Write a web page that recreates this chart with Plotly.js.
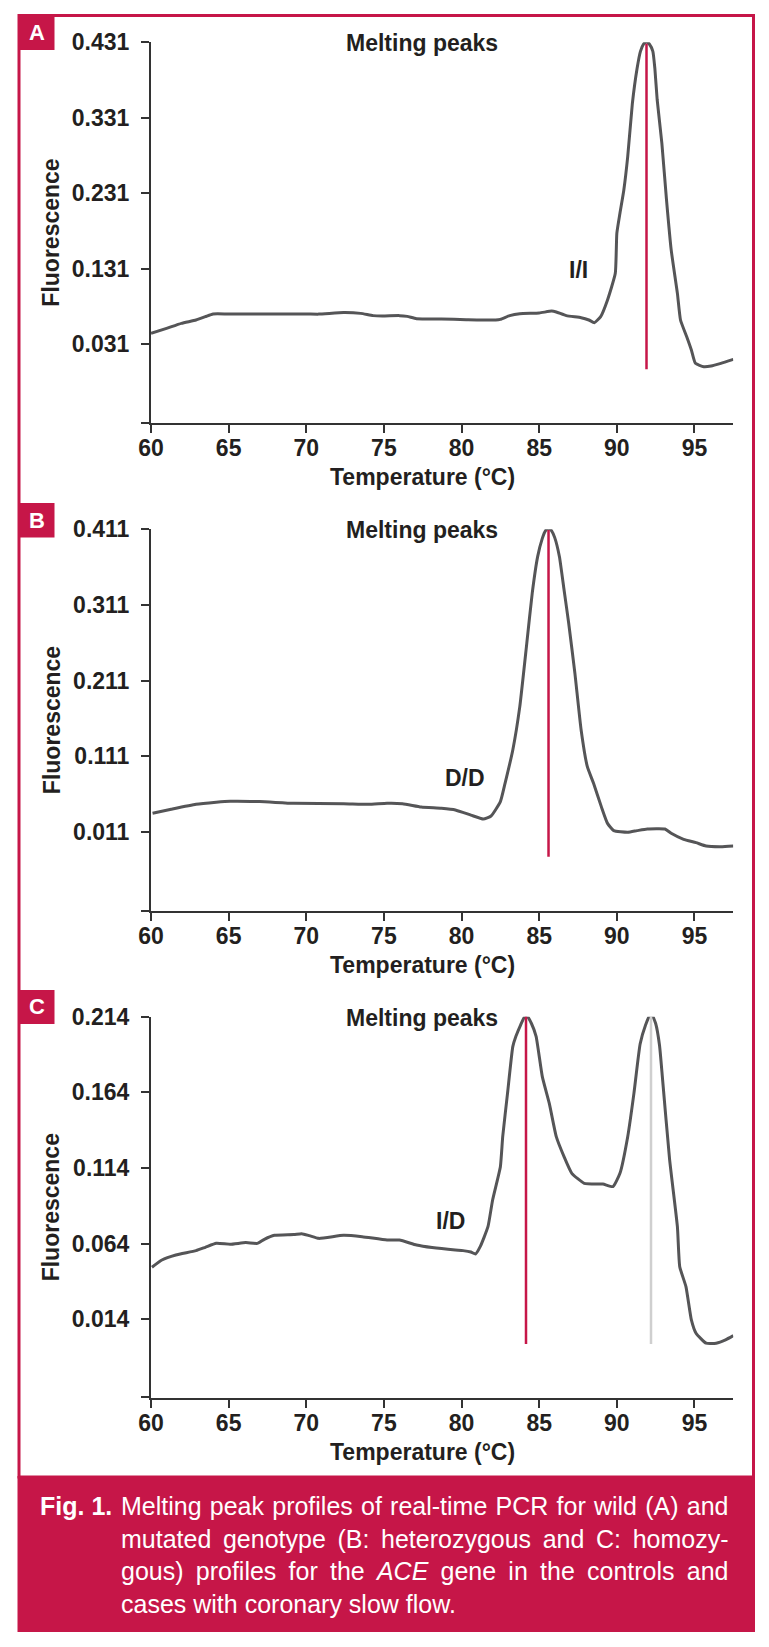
<!DOCTYPE html>
<html>
<head>
<meta charset="utf-8">
<script src="https://cdn.plot.ly/plotly-3.0.1.min.js"></script>
<style>
  html, body { margin: 0; padding: 0; background: #ffffff; }
  #chart { width: 769px; height: 1647px; }
</style>
</head>
<body>
<div id="chart"></div>
<script>
// ---------------- DATA ----------------
const xTickVals = [60, 65, 70, 75, 80, 85, 90, 95];

// Panel A (I/I)
const tempA = [60, 61.0, 61.96, 62.9, 63.5, 64.0, 65, 70, 70.8, 72.4, 73.5, 74.3, 74.9, 76.0, 76.5, 77.1, 78.7, 80.3, 82.2, 82.5, 83.1, 83.75, 85.0, 85.8, 86.1, 86.75, 87.7, 88.2, 88.55, 88.96, 89.4, 89.9, 90.0, 90.2, 90.45, 90.7, 91.0, 91.3, 91.52, 91.72, 91.91, 92.1, 92.32, 92.45, 92.6, 92.9, 93.2, 93.5, 93.9, 94.1, 94.5, 94.8, 95.06, 95.6, 96.07, 96.7, 97.5];
const fluorA = [0.0456, 0.0522, 0.0588, 0.0632, 0.0676, 0.0712, 0.0712, 0.0712, 0.0710, 0.0730, 0.0720, 0.0690, 0.0685, 0.0690, 0.0680, 0.0650, 0.0645, 0.0637, 0.0632, 0.0641, 0.0690, 0.0716, 0.0725, 0.0750, 0.0738, 0.0690, 0.0663, 0.0632, 0.0597, 0.0677, 0.0897, 0.1250, 0.1780, 0.2045, 0.2354, 0.2796, 0.3500, 0.3960, 0.4190, 0.4285, 0.4315, 0.4285, 0.4190, 0.3960, 0.3546, 0.2972, 0.2220, 0.1560, 0.0985, 0.0632, 0.0410, 0.0235, 0.0058, 0.0014, 0.0023, 0.0058, 0.0110];
const yTickValsA = [0.031, 0.131, 0.231, 0.331, 0.431];
const yRangeA = [-0.0728, 0.431];
const peakLineA = { temp: [91.91, 91.91], fluor: [-0.002, 0.429] };

// Panel B (D/D)
const tempB = [60.1, 61.3, 62.9, 64.2, 65.1, 67.0, 69.2, 72.4, 74.0, 75.2, 76.2, 77.4, 78.7, 79.6, 80.6, 81.4, 81.9, 82.5, 82.8, 83.3, 83.75, 84.2, 84.55, 84.9, 85.2, 85.4, 85.6, 85.8, 86.0, 86.3, 86.6, 86.9, 87.3, 87.7, 88.1, 88.5, 89.0, 89.4, 89.8, 90.7, 91.3, 91.96, 93.1, 93.5, 94.3, 95.1, 95.75, 96.7, 97.5];
const fluorB = [0.0353, 0.0406, 0.0472, 0.0499, 0.0512, 0.0508, 0.0486, 0.0481, 0.0472, 0.0486, 0.0481, 0.0437, 0.0419, 0.0397, 0.0330, 0.0278, 0.0318, 0.0508, 0.0750, 0.1191, 0.1764, 0.2602, 0.3263, 0.3748, 0.3990, 0.4090, 0.4125, 0.4090, 0.4000, 0.3750, 0.3310, 0.2867, 0.2205, 0.1456, 0.0970, 0.0750, 0.0442, 0.0220, 0.0124, 0.0102, 0.0124, 0.0146, 0.0146, 0.0089, 0.0009, -0.0035, -0.0079, -0.0088, -0.0079];
const yTickValsB = [0.011, 0.111, 0.211, 0.311, 0.411];
const yRangeB = [-0.0935, 0.411];
const peakLineB = { temp: [85.6, 85.6], fluor: [-0.022, 0.410] };

// Panel C (I/D)
const tempC = [60.06, 60.7, 61.6, 62.9, 63.5, 64.2, 65.1, 66.1, 66.85, 67.3, 67.95, 69.2, 69.7, 70.2, 70.8, 72.4, 73.6, 75.2, 76.0, 77.1, 78.1, 79.6, 80.1, 80.6, 80.9, 81.2, 81.7, 82.0, 82.5, 82.65, 82.96, 83.3, 83.5, 83.8, 84.15, 84.5, 84.8, 85.2, 85.65, 86.1, 86.6, 87.1, 87.9, 89.1, 89.75, 90.2, 90.7, 91.1, 91.5, 91.85, 92.2, 92.5, 92.75, 92.95, 93.4, 93.9, 94.05, 94.45, 94.8, 95.1, 95.75, 96.4, 97.0, 97.5];
const fluorC = [0.0484, 0.0532, 0.0565, 0.0594, 0.0616, 0.0642, 0.0636, 0.0647, 0.0642, 0.0669, 0.0695, 0.0700, 0.0706, 0.0693, 0.0675, 0.0695, 0.0686, 0.0664, 0.0664, 0.0631, 0.0614, 0.0598, 0.0594, 0.0585, 0.0572, 0.0620, 0.0752, 0.0929, 0.1149, 0.1347, 0.1633, 0.1942, 0.2010, 0.2085, 0.2155, 0.2095, 0.2010, 0.1744, 0.1567, 0.1347, 0.1215, 0.1105, 0.1039, 0.1034, 0.1017, 0.1105, 0.1347, 0.1633, 0.1960, 0.2085, 0.2165, 0.2095, 0.1950, 0.1720, 0.1193, 0.0752, 0.0488, 0.0356, 0.0136, 0.0048, -0.0018, -0.0018, 0.0004, 0.0032];
const yTickValsC = [0.014, 0.064, 0.114, 0.164, 0.214];
const yRangeC = [-0.0378, 0.214];
const peakLineC1 = { temp: [84.15, 84.15], fluor: [-0.0023, 0.2145] };
const peakLineC2 = { temp: [92.2, 92.2], fluor: [-0.0023, 0.2155] };

const panelLetters = ["A", "B", "C"];
const genotypeLabels = ["I/I", "D/D", "I/D"];
const panelTitle = "Melting peaks";
const xTitle = "Temperature (°C)";
const yTitle = "Fluorescence";
const captionBold = "Fig. 1.";
const captionLines = [
  "Melting peak profiles of real-time PCR for wild (A) and",
  "mutated genotype (B: heterozygous and C: homozy-",
  "gous) profiles for the <i>ACE</i> gene in the controls and",
  "cases with coronary slow flow."
];
const captionJustified = [true, true, true, false];

// ---------------- STYLE ----------------
const W = 769, H = 1647;
const px = v => v / W;
const py = v => 1 - v / H;
const CRIMSON = "#c61648";
const CURVE = "#555557";
const AXIS = "#333333";
const TEXT = "#231f20";
const FONT = "Liberation Sans, Arial, Helvetica, sans-serif";
const CAP_SIZE = 25;

const xDomain = [px(151), px(733.3)];
const panels = [
  { top: 42.3, bottom: 422.7, yr: yRangeA, yt: yTickValsA, badge: [15, 50], lab: 270, labX: 578 },
  { top: 529.3, bottom: 910.7, yr: yRangeB, yt: yTickValsB, badge: [503, 537.5], lab: 778, labX: 464.5 },
  { top: 1016.7, bottom: 1397.7, yr: yRangeC, yt: yTickValsC, badge: [990, 1024], lab: 1220.7, labX: 450 }
];

function fmt(v) { return v.toFixed(3); }

const layout = {
  width: W, height: H,
  margin: { l: 0, r: 0, t: 0, b: 0, pad: 0 },
  paper_bgcolor: "#ffffff",
  plot_bgcolor: "#ffffff",
  showlegend: false,
  font: { family: FONT, color: TEXT },
  shapes: [],
  annotations: []
};

panels.forEach((p, i) => {
  const n = i === 0 ? "" : String(i + 1);
  const xa = "xaxis" + n, ya = "yaxis" + n;
  layout[xa] = {
    domain: xDomain,
    anchor: "y" + n,
    range: [60, 97.5],
    tickmode: "array",
    tickvals: xTickVals,
    ticktext: xTickVals.map(String),
    ticks: "outside", ticklen: 8, tickwidth: 2, tickcolor: AXIS,
    ticklabelstandoff: -4,
    showline: true, linecolor: AXIS, linewidth: 2,
    showgrid: false, zeroline: false,
    tickfont: { family: FONT, size: 23, color: TEXT, weight: "bold" },
    fixedrange: true
  };
  const bottomVal = p.yr[0] + 0.0002;
  layout[ya] = {
    domain: [py(p.bottom), py(p.top)],
    anchor: "x" + n,
    range: p.yr,
    tickmode: "array",
    tickvals: [bottomVal].concat(p.yt),
    ticktext: [""].concat(p.yt.map(fmt)),
    ticks: "outside", ticklen: 8, tickwidth: 2, tickcolor: AXIS,
    ticklabelstandoff: 7,
    showline: true, linecolor: AXIS, linewidth: 2,
    showgrid: false, zeroline: false,
    tickfont: { family: FONT, size: 23, color: TEXT, weight: "bold" },
    title: { text: yTitle, font: { family: FONT, size: 23, color: TEXT, weight: "bold" }, standoff: 6 },
    fixedrange: true
  };
  // x axis title (centred like the reference, left of the domain centre)
  layout.annotations.push({
    xref: "paper", yref: "paper", x: px(422.5), y: py(p.bottom + 54),
    text: xTitle, showarrow: false, xanchor: "center", yanchor: "middle",
    font: { family: FONT, size: 23, color: TEXT, weight: "bold" }
  });
  // panel badge
  layout.shapes.push({
    type: "rect", xref: "paper", yref: "paper",
    x0: px(18), x1: px(54.5), y0: py(p.badge[1]), y1: py(p.badge[0]),
    fillcolor: CRIMSON, line: { width: 0 }, layer: "above"
  });
  layout.annotations.push({
    xref: "paper", yref: "paper", x: px(37), y: py((p.badge[0] + p.badge[1]) / 2),
    text: panelLetters[i], showarrow: false, xanchor: "center", yanchor: "middle",
    font: { family: FONT, size: 22, color: "#ffffff", weight: "bold" }
  });
  layout.annotations.push({
    xref: "paper", yref: "paper", x: px(422.3), y: py(p.top + 1),
    text: panelTitle, showarrow: false, xanchor: "center", yanchor: "middle",
    font: { family: FONT, size: 23, color: TEXT, weight: "bold" }
  });
  layout.annotations.push({
    xref: "paper", yref: "paper", x: px(p.labX), y: py(p.lab),
    text: genotypeLabels[i], showarrow: false, xanchor: "center", yanchor: "middle",
    font: { family: FONT, size: 23, color: TEXT, weight: "bold" }
  });
});

// outer frame and caption band
layout.shapes.push({
  type: "rect", xref: "paper", yref: "paper",
  x0: px(19), x1: px(753.5), y0: py(1477), y1: py(15.5),
  fillcolor: "rgba(0,0,0,0)", line: { color: CRIMSON, width: 3 }, layer: "below"
});
layout.shapes.push({
  type: "rect", xref: "paper", yref: "paper",
  x0: px(17.5), x1: px(755), y0: py(1632), y1: py(1476),
  fillcolor: CRIMSON, line: { width: 0 }, layer: "above"
});

// caption (justified lines via word-spacing)
const measureCtx = document.createElement("canvas").getContext("2d");
function textWidth(t) {
  measureCtx.font = CAP_SIZE + "px 'Liberation Sans', Arial, sans-serif";
  return measureCtx.measureText(t.replace(/<[^>]+>/g, "")).width;
}
const capLeft = 119, capRight = 726.5;
const capTop = 1506, capStep = 32.6;
layout.annotations.push({
  xref: "paper", yref: "paper", x: px(38), y: py(capTop),
  text: "<b>" + captionBold + "</b>", showarrow: false, xanchor: "left", yanchor: "middle",
  font: { family: FONT, size: CAP_SIZE, color: "#ffffff" }
});
captionLines.forEach((t, k) => {
  let txt = t;
  if (captionJustified[k]) {
    const nat = textWidth(t);
    const nSp = (t.replace(/<[^>]+>/g, "").match(/ /g) || []).length;
    const ws = Math.max(0, (capRight - capLeft - nat) / nSp);
    txt = '<span style="word-spacing:' + ws.toFixed(2) + 'px">' + t + '</span>';
  }
  layout.annotations.push({
    xref: "paper", yref: "paper", x: px(capLeft), y: py(capTop + k * capStep),
    text: txt, showarrow: false, xanchor: "left", yanchor: "middle",
    font: { family: FONT, size: CAP_SIZE, color: "#ffffff" }
  });
});

// traces
const curves = [[tempA, fluorA], [tempB, fluorB], [tempC, fluorC]];
const peakLines = [[peakLineA], [peakLineB], [peakLineC1, peakLineC2]];
const peakColors = [[CRIMSON], [CRIMSON], [CRIMSON, "#cfcfcf"]];
const data = [];
curves.forEach((c, i) => {
  const n = i === 0 ? "" : String(i + 1);
  data.push({
    type: "scatter", mode: "lines", x: c[0], y: c[1],
    xaxis: "x" + n, yaxis: "y" + n,
    line: { color: CURVE, width: 3, shape: "spline", smoothing: 0.45 },
    hoverinfo: "skip", name: genotypeLabels[i]
  });
  peakLines[i].forEach((pl, j) => {
    data.push({
      type: "scatter", mode: "lines", x: pl.temp, y: pl.fluor,
      xaxis: "x" + n, yaxis: "y" + n,
      line: { color: peakColors[i][j], width: 2.5 }, hoverinfo: "skip"
    });
  });
});

Plotly.newPlot("chart", data, layout, { staticPlot: true, displayModeBar: false });
</script>
</body>
</html>
